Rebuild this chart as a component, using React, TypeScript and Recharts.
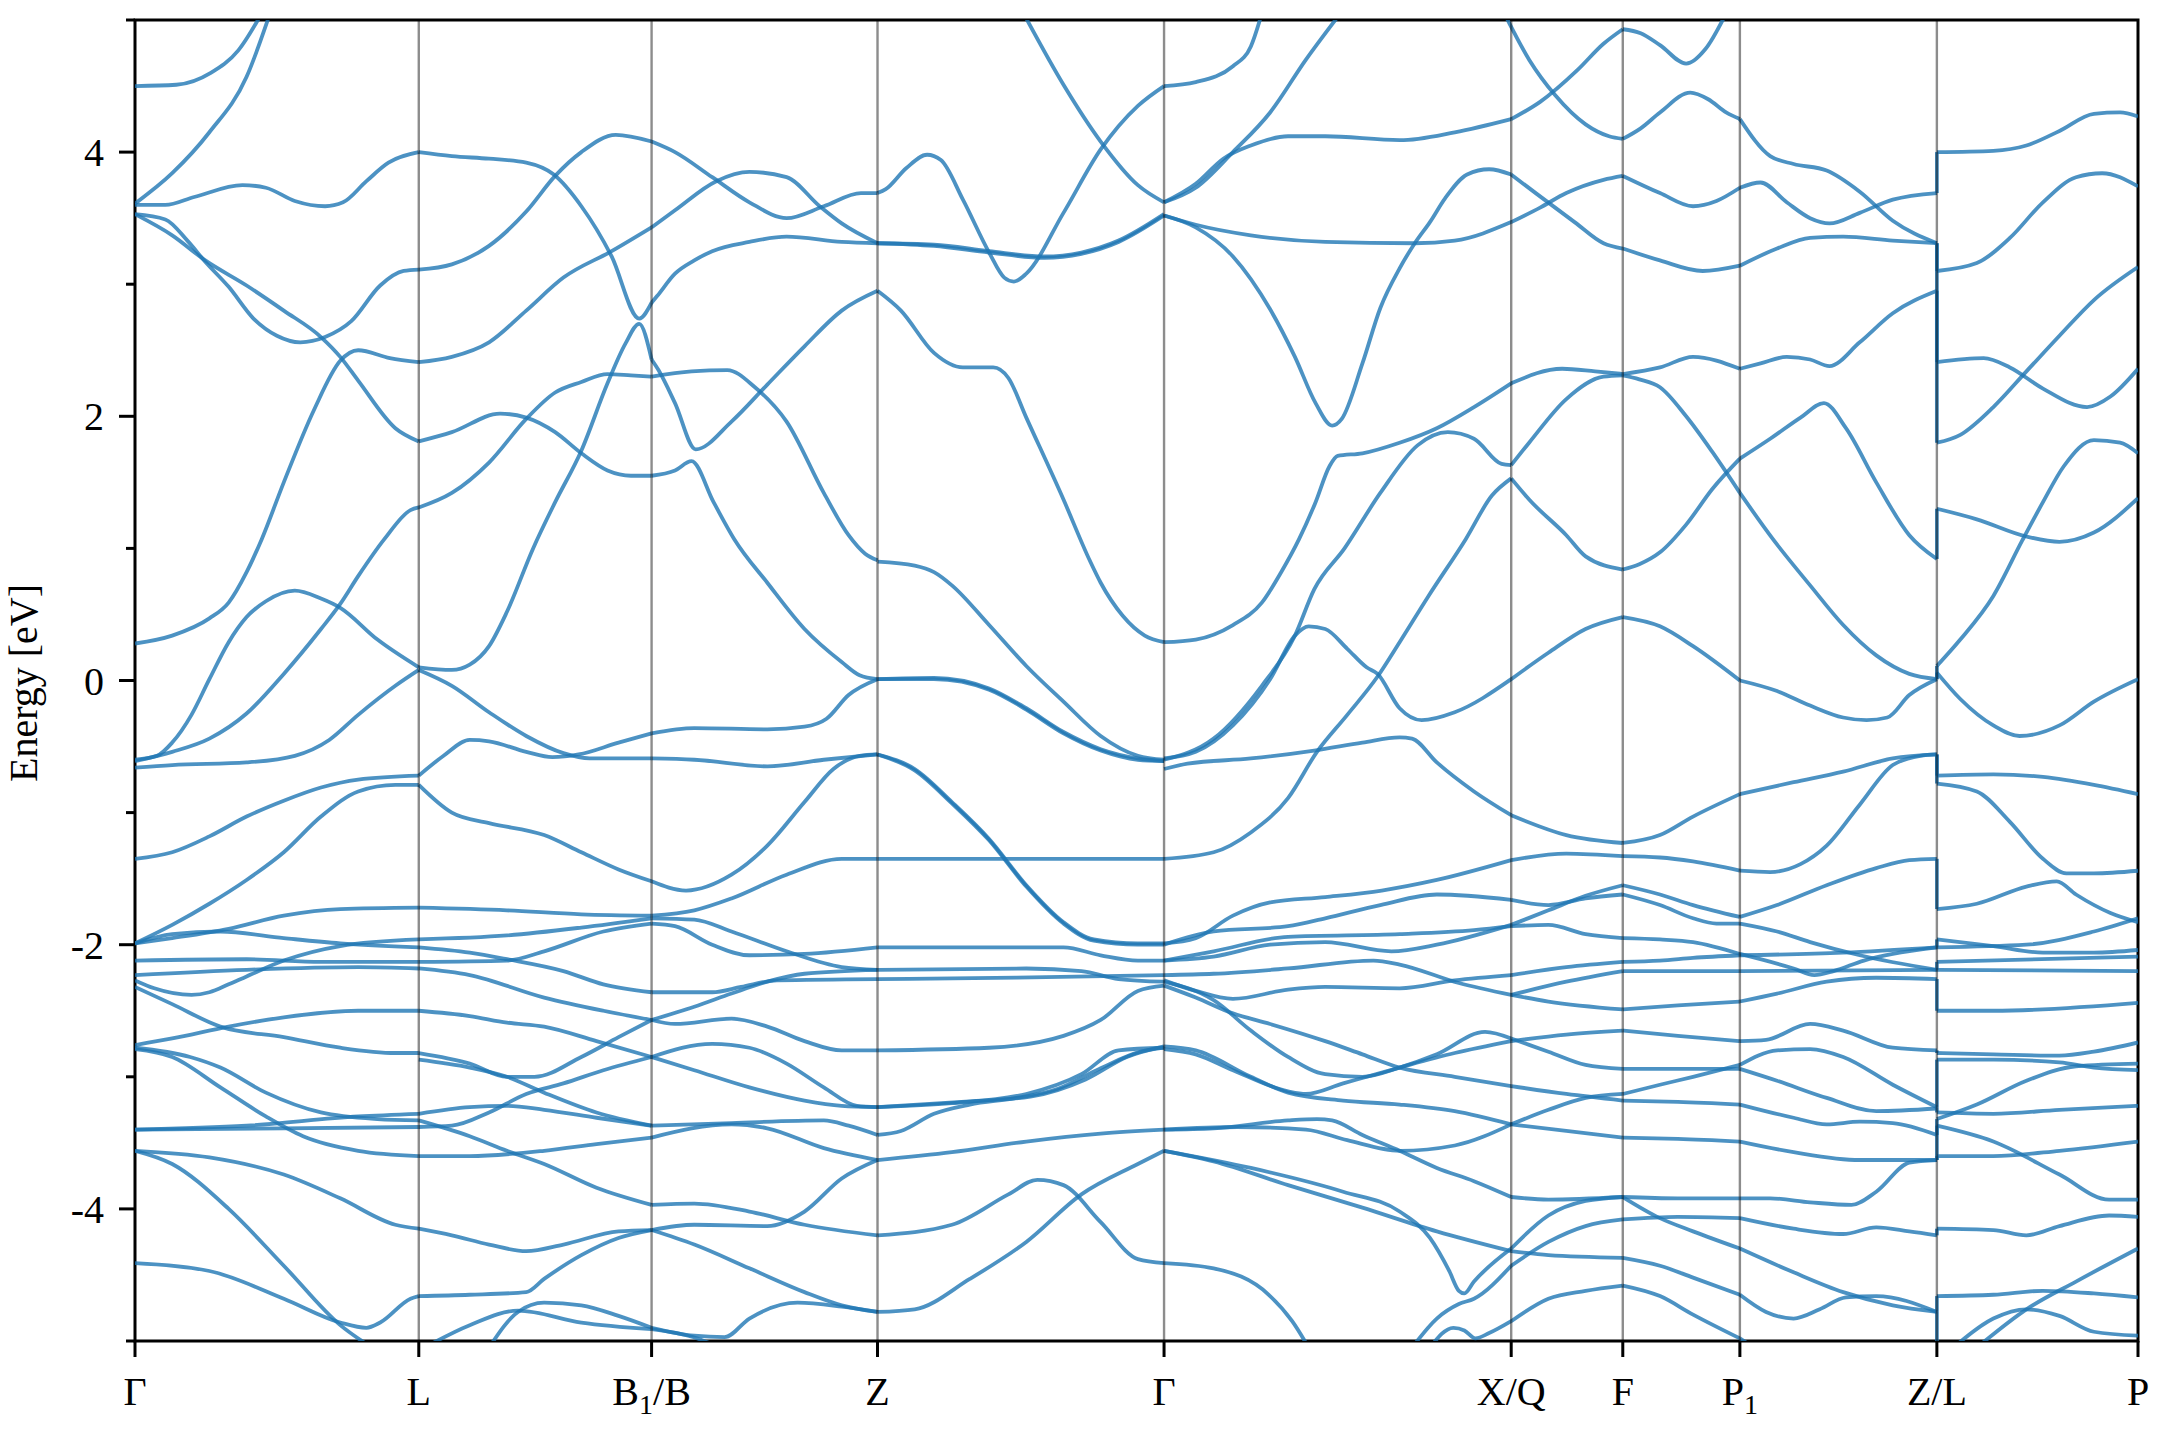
import { useMemo } from "react"
import { Line, LineChart, ReferenceArea, ReferenceLine, XAxis, YAxis } from "recharts"

type Curve = number[][]

const FONT = '"Liberation Serif", "Times New Roman", serif'
const PLOT_LEFT = 135
const PLOT_BOTTOM = 1341

// k-path positions of the high-symmetry points and their labels ("_" marks a subscript)
const kTicks = [0, 206, 375, 539, 747, 999, 1080, 1165, 1308, 1454]
const kLabels = ["Γ", "L", "B_1/B", "Z", "Γ", "X/Q", "F", "P_1", "Z/L", "P"]
const eTicks = [-5, -4, -3, -2, -1, 0, 1, 2, 3, 4, 5]

// each curve is a list of [k, energy in eV]
const gammaL: Curve[] = [
  [[0, 4.5], [30, 4.51], [55, 4.6], [75, 4.77], [92, 5.05]],
  [[0, 3.61], [27, 3.84], [54, 4.15], [81, 4.57], [98, 5.05]],
  [[0, 3.6], [22, 3.6], [43, 3.66], [78, 3.75], [95, 3.73], [116, 3.63], [138, 3.59], [151, 3.62], [168, 3.78], [184, 3.92], [206, 4.0]],
  [[0, 3.53], [22, 3.49], [38, 3.33], [51, 3.17], [68, 2.98], [86, 2.74], [103, 2.61], [120, 2.56], [138, 2.6], [157, 2.72], [178, 2.99], [195, 3.1], [206, 3.11]],
  [[0, 3.53], [27, 3.37], [51, 3.18], [81, 2.99], [108, 2.8], [135, 2.6], [149, 2.45], [162, 2.27], [189, 1.91], [206, 1.81]],
  [[0, 0.28], [27, 0.34], [54, 0.47], [68, 0.59], [81, 0.82], [92, 1.07], [108, 1.5], [130, 2.05], [149, 2.42], [162, 2.5], [185, 2.44], [206, 2.41]],
  [[0, -0.6], [16, -0.57], [27, -0.47], [41, -0.26], [54, 0.01], [68, 0.29], [81, 0.48], [95, 0.6], [116, 0.68], [135, 0.62], [149, 0.55], [176, 0.31], [206, 0.1]],
  [[0, -0.61], [27, -0.54], [54, -0.44], [81, -0.25], [108, 0.05], [135, 0.39], [149, 0.58], [162, 0.79], [181, 1.07], [200, 1.29], [206, 1.31]],
  [[0, -0.66], [27, -0.64], [81, -0.62], [116, -0.57], [141, -0.45], [162, -0.26], [189, -0.04], [206, 0.08]],
  [[0, -1.35], [27, -1.3], [54, -1.18], [81, -1.03], [108, -0.91], [135, -0.81], [162, -0.75], [206, -0.72]],
  [[0, -1.99], [27, -1.85], [54, -1.69], [81, -1.51], [108, -1.3], [135, -1.03], [162, -0.84], [189, -0.79], [206, -0.79]],
  [[0, -1.99], [27, -1.95], [68, -1.88], [108, -1.78], [149, -1.73], [206, -1.72]],
  [[0, -1.99], [27, -1.92], [62, -1.9], [108, -1.95], [149, -1.99], [206, -2.02]],
  [[0, -2.12], [81, -2.11], [135, -2.13], [206, -2.13]],
  [[0, -2.23], [81, -2.19], [162, -2.17], [206, -2.18]],
  [[0, -2.27], [14, -2.33], [41, -2.38], [54, -2.36], [68, -2.3], [81, -2.24], [108, -2.12], [149, -2.01], [206, -1.96]],
  [[0, -2.32], [27, -2.45], [62, -2.62], [108, -2.7], [149, -2.78], [189, -2.82], [206, -2.82]],
  [[0, -2.76], [27, -2.71], [68, -2.62], [108, -2.55], [162, -2.5], [206, -2.5]],
  [[0, -2.78], [40, -2.85], [62, -2.93], [95, -3.12], [135, -3.27], [176, -3.32], [206, -3.33]],
  [[0, -2.79], [27, -2.85], [62, -3.08], [95, -3.3], [122, -3.45], [162, -3.56], [206, -3.6]],
  [[0, -3.4], [81, -3.37], [162, -3.3], [206, -3.28]],
  [[0, -3.4], [108, -3.39], [206, -3.38]],
  [[0, -3.56], [54, -3.61], [108, -3.74], [149, -3.92], [189, -4.12], [206, -4.15]],
  [[0, -3.56], [27, -3.66], [68, -4.0], [108, -4.43], [149, -4.88], [172, -5.05]],
  [[0, -4.41], [54, -4.47], [108, -4.68], [149, -4.86], [168, -4.9], [178, -4.86], [200, -4.68], [206, -4.66]],
]

const lB: Curve[] = [
  [[206, 4.0], [230, 3.97], [257, 3.95], [284, 3.92], [304, 3.83], [324, 3.59], [346, 3.21], [366, 2.74], [375, 2.86]],
  [[206, 3.11], [230, 3.15], [257, 3.29], [284, 3.55], [305, 3.82], [324, 4.0], [349, 4.13], [375, 4.08]],
  [[206, 2.41], [230, 2.45], [257, 2.56], [284, 2.8], [311, 3.05], [346, 3.25], [375, 3.43]],
  [[206, 1.81], [230, 1.88], [265, 2.02], [284, 1.99], [305, 1.88], [324, 1.72], [343, 1.59], [360, 1.55], [375, 1.55]],
  [[206, 1.31], [230, 1.42], [257, 1.65], [284, 1.98], [305, 2.18], [324, 2.26], [343, 2.32], [360, 2.31], [375, 2.3]],
  [[206, 0.1], [230, 0.08], [243, 0.12], [257, 0.26], [270, 0.52], [289, 1.0], [305, 1.35], [324, 1.74], [343, 2.25], [356, 2.55], [366, 2.7], [375, 2.43]],
  [[206, 0.08], [230, -0.04], [257, -0.24], [284, -0.42], [311, -0.55], [330, -0.59], [375, -0.59]],
  [[206, -0.72], [224, -0.57], [243, -0.45], [257, -0.46], [284, -0.54], [303, -0.58], [322, -0.56], [351, -0.47], [375, -0.4]],
  [[206, -0.79], [230, -1.0], [257, -1.08], [297, -1.17], [324, -1.3], [351, -1.43], [375, -1.52]],
  [[206, -1.72], [270, -1.74], [324, -1.77], [375, -1.78]],
  [[206, -1.96], [270, -1.93], [324, -1.87], [375, -1.8]],
  [[206, -2.13], [270, -2.12], [297, -2.05], [340, -1.9], [375, -1.84]],
  [[206, -2.02], [243, -2.06], [270, -2.11], [311, -2.2], [340, -2.3], [375, -2.36]],
  [[206, -2.18], [243, -2.23], [297, -2.4], [340, -2.5], [375, -2.57]],
  [[206, -2.5], [243, -2.54], [270, -2.59], [297, -2.62], [335, -2.73], [375, -2.85]],
  [[206, -2.82], [243, -2.9], [270, -3.0], [290, -3.0], [324, -2.85], [351, -2.7], [375, -2.57]],
  [[206, -2.87], [243, -2.93], [270, -3.0], [297, -3.12], [335, -3.27], [375, -3.37]],
  [[206, -3.28], [243, -3.23], [270, -3.22], [297, -3.25], [335, -3.31], [375, -3.37]],
  [[206, -3.33], [243, -3.45], [270, -3.56], [297, -3.66], [335, -3.84], [375, -3.97]],
  [[206, -3.38], [230, -3.37], [257, -3.27], [284, -3.13], [311, -3.05], [340, -2.95], [375, -2.85]],
  [[206, -3.6], [243, -3.6], [297, -3.56], [335, -3.51], [375, -3.46]],
  [[206, -4.15], [230, -4.2], [257, -4.27], [284, -4.32], [311, -4.27], [351, -4.17], [375, -4.16]],
  [[206, -4.66], [243, -4.65], [284, -4.63], [297, -4.53], [324, -4.35], [351, -4.22], [375, -4.16]],
  [[210, -5.05], [243, -4.88], [278, -4.77], [324, -4.86], [375, -4.91]],
  [[257, -5.05], [278, -4.78], [297, -4.71], [324, -4.73], [351, -4.81], [375, -4.9]],
]

const bZ: Curve[] = [
  [[375, 4.08], [392, 4.0], [419, 3.81], [446, 3.62], [473, 3.5], [500, 3.59], [527, 3.69], [539, 3.69]],
  [[375, 3.43], [392, 3.56], [422, 3.78], [446, 3.85], [473, 3.81], [497, 3.59], [513, 3.46], [539, 3.31]],
  [[375, 2.86], [379, 2.91], [392, 3.08], [406, 3.18], [419, 3.25], [446, 3.32], [473, 3.36], [513, 3.32], [539, 3.31]],
  [[375, 2.43], [380, 2.35], [392, 2.1], [407, 1.75], [433, 1.96], [459, 2.24], [486, 2.53], [513, 2.8], [539, 2.95]],
  [[375, 2.3], [404, 2.34], [430, 2.35], [450, 2.22], [473, 1.96], [500, 1.42], [518, 1.1], [530, 0.96], [539, 0.91]],
  [[375, 1.55], [392, 1.59], [404, 1.66], [420, 1.35], [435, 1.07], [459, 0.74], [486, 0.39], [513, 0.14], [526, 0.04], [539, 0.01]],
  [[375, -0.4], [406, -0.36], [459, -0.37], [486, -0.35], [502, -0.29], [518, -0.11], [539, 0.01]],
  [[375, -0.59], [406, -0.6], [459, -0.65], [500, -0.6], [539, -0.56]],
  [[375, -1.52], [400, -1.59], [433, -1.47], [459, -1.25], [486, -0.92], [507, -0.67], [526, -0.57], [539, -0.56]],
  [[375, -1.78], [406, -1.74], [433, -1.65], [473, -1.47], [513, -1.35], [539, -1.35]],
  [[375, -1.84], [392, -1.86], [419, -2.0], [446, -2.08], [486, -2.07], [539, -2.02]],
  [[375, -1.8], [406, -1.81], [433, -1.9], [473, -2.05], [513, -2.17], [539, -2.19]],
  [[375, -2.36], [419, -2.36], [440, -2.32], [466, -2.27], [539, -2.26]],
  [[375, -2.57], [406, -2.47], [433, -2.37], [459, -2.28], [486, -2.22], [539, -2.19]],
  [[375, -2.57], [392, -2.6], [433, -2.56], [459, -2.62], [486, -2.73], [513, -2.8], [539, -2.8]],
  [[375, -2.85], [406, -2.95], [446, -3.08], [486, -3.18], [513, -3.22], [539, -3.23]],
  [[375, -2.85], [419, -2.75], [446, -2.78], [473, -2.9], [500, -3.08], [524, -3.22], [539, -3.23]],
  [[375, -3.37], [433, -3.35], [500, -3.33], [518, -3.37], [539, -3.44]],
  [[375, -3.46], [433, -3.36], [459, -3.39], [500, -3.54], [539, -3.63]],
  [[375, -3.97], [406, -3.96], [446, -4.02], [486, -4.12], [539, -4.2]],
  [[375, -4.16], [406, -4.12], [459, -4.13], [486, -4.02], [513, -3.77], [539, -3.63]],
  [[375, -4.16], [406, -4.27], [446, -4.45], [486, -4.63], [513, -4.73], [539, -4.78]],
  [[375, -4.9], [406, -4.96], [428, -4.97], [446, -4.83], [481, -4.71], [513, -4.74], [539, -4.78]],
  [[375, -4.91], [405, -4.97], [425, -5.05]],
]

const zGamma: Curve[] = [
  [[539, 3.69], [545, 3.72], [560, 3.88], [575, 3.98], [585, 3.94], [601, 3.64], [620, 3.24], [631, 3.05], [638, 3.02], [647, 3.08], [674, 3.54], [701, 4.02], [728, 4.35], [747, 4.5]],
  [[645, 5.05], [674, 4.51], [701, 4.08], [728, 3.75], [747, 3.62]],
  [[539, 3.31], [580, 3.29], [620, 3.24], [660, 3.2], [687, 3.23], [714, 3.32], [747, 3.52]],
  [[539, 3.31], [580, 3.3], [620, 3.25], [660, 3.21], [687, 3.24], [714, 3.33], [747, 3.53]],
  [[539, 2.95], [556, 2.8], [580, 2.48], [601, 2.37], [623, 2.37], [634, 2.29], [647, 1.99], [674, 1.37], [693, 0.91], [701, 0.74], [717, 0.49], [733, 0.34], [747, 0.29]],
  [[539, 0.9], [566, 0.87], [580, 0.82], [593, 0.72], [620, 0.42], [647, 0.11], [674, -0.16], [701, -0.42], [728, -0.57], [747, -0.6]],
  [[539, 0.01], [580, 0.02], [620, -0.06], [647, -0.21], [674, -0.39], [701, -0.52], [728, -0.59], [747, -0.61]],
  [[539, 0.01], [580, 0.01], [620, -0.07], [647, -0.22], [674, -0.4], [701, -0.53], [728, -0.6], [747, -0.61]],
  [[539, -0.56], [566, -0.67], [593, -0.92], [620, -1.2], [647, -1.55], [674, -1.83], [696, -1.96], [728, -1.99], [747, -1.99]],
  [[539, -0.56], [566, -0.68], [593, -0.93], [620, -1.21], [647, -1.56], [674, -1.84], [696, -1.97], [728, -2.0], [747, -2.0]],
  [[539, -1.35], [640, -1.35], [747, -1.35]],
  [[539, -2.02], [674, -2.02], [701, -2.08], [728, -2.12], [747, -2.12]],
  [[539, -2.19], [647, -2.18], [687, -2.2], [714, -2.26], [747, -2.28]],
  [[539, -2.26], [640, -2.25], [747, -2.23]],
  [[539, -2.8], [620, -2.78], [674, -2.69], [701, -2.57], [728, -2.35], [747, -2.31]],
  [[539, -3.23], [593, -3.2], [647, -3.13], [687, -2.98], [714, -2.8], [747, -2.78]],
  [[539, -3.23], [600, -3.19], [650, -3.15], [690, -3.02], [720, -2.85], [747, -2.77]],
  [[539, -3.44], [556, -3.41], [580, -3.28], [606, -3.21], [640, -3.16], [670, -3.09], [700, -2.94], [730, -2.81], [747, -2.78]],
  [[539, -3.63], [593, -3.57], [647, -3.49], [701, -3.43], [747, -3.4]],
  [[539, -4.2], [593, -4.12], [634, -3.89], [655, -3.78], [674, -3.82], [701, -4.1], [728, -4.38], [747, -4.41]],
  [[539, -4.78], [566, -4.76], [606, -4.53], [647, -4.25], [687, -3.89], [728, -3.66], [747, -3.56]],
]

const gammaX: Curve[] = [
  [[747, 4.5], [770, 4.53], [797, 4.65], [810, 4.8], [818, 5.05]],
  [[747, 3.62], [770, 3.73], [797, 4.0], [824, 4.3], [850, 4.7], [875, 5.05]],
  [[747, 3.62], [770, 3.76], [790, 3.95], [810, 4.05], [837, 4.12], [864, 4.12], [918, 4.09], [958, 4.15], [999, 4.25]],
  [[747, 3.52], [770, 3.45], [810, 3.37], [864, 3.32], [929, 3.31], [958, 3.33], [999, 3.47]],
  [[747, 3.52], [770, 3.43], [797, 3.21], [824, 2.81], [842, 2.45], [857, 2.1], [869, 1.93], [876, 1.98], [891, 2.4], [904, 2.82], [918, 3.12], [929, 3.31], [940, 3.47], [951, 3.65], [967, 3.83], [983, 3.87], [999, 3.83]],
  [[747, 0.29], [770, 0.31], [797, 0.42], [818, 0.59], [832, 0.82], [845, 1.07], [857, 1.35], [867, 1.62], [873, 1.7], [891, 1.72], [918, 1.8], [945, 1.91], [972, 2.07], [999, 2.25]],
  [[747, -0.6], [783, -0.44], [818, -0.04], [842, 0.34], [856, 0.69], [878, 1.0], [904, 1.42], [931, 1.78], [953, 1.88], [972, 1.83], [992, 1.64], [999, 1.63]],
  [[747, -0.59], [770, -0.54], [797, -0.34], [824, 0.01], [842, 0.34], [852, 0.41], [864, 0.39], [880, 0.24], [894, 0.1], [902, 0.05], [918, -0.21], [934, -0.3], [958, -0.24], [999, 0.01]],
  [[747, -1.35], [783, -1.3], [810, -1.15], [837, -0.89], [858, -0.54], [880, -0.26], [902, 0.03], [918, 0.29], [939, 0.64], [966, 1.07], [985, 1.4], [999, 1.53]],
  [[747, -0.67], [764, -0.63], [810, -0.59], [856, -0.53], [891, -0.47], [918, -0.43], [927, -0.44], [945, -0.62], [972, -0.84], [999, -1.02]],
  [[747, -1.99], [770, -1.95], [797, -1.78], [824, -1.68], [864, -1.64], [905, -1.59], [945, -1.51], [999, -1.36]],
  [[747, -2.0], [783, -1.9], [837, -1.86], [864, -1.8], [904, -1.7], [945, -1.62], [999, -1.66]],
  [[747, -2.12], [783, -2.05], [837, -1.94], [918, -1.92], [972, -1.89], [999, -1.86]],
  [[747, -2.12], [783, -2.09], [824, -2.0], [864, -1.98], [912, -2.05], [945, -2.0], [999, -1.85]],
  [[747, -2.23], [783, -2.22], [837, -2.18], [899, -2.12], [918, -2.15], [961, -2.29], [999, -2.38]],
  [[747, -2.27], [770, -2.35], [797, -2.41], [837, -2.34], [864, -2.32], [918, -2.33], [958, -2.27], [999, -2.23]],
  [[747, -2.31], [770, -2.4], [797, -2.52], [824, -2.6], [864, -2.73], [891, -2.83], [918, -2.93], [958, -3.0], [999, -3.07]],
  [[747, -2.28], [783, -2.42], [810, -2.65], [837, -2.85], [864, -2.98], [891, -3.0], [918, -2.93], [945, -2.83], [980, -2.66], [999, -2.71]],
  [[747, -2.79], [770, -2.83], [797, -2.95], [837, -3.11], [850, -3.13], [877, -3.05], [918, -2.93], [958, -2.82], [999, -2.73]],
  [[747, -2.77], [770, -2.8], [810, -3.0], [837, -3.12], [877, -3.18], [918, -3.21], [958, -3.26], [999, -3.36]],
  [[747, -3.4], [783, -3.39], [837, -3.33], [858, -3.32], [869, -3.33], [891, -3.44], [918, -3.56], [945, -3.69], [972, -3.79], [999, -3.91]],
  [[747, -3.4], [800, -3.38], [850, -3.4], [880, -3.48], [918, -3.56], [958, -3.52], [999, -3.36]],
  [[747, -3.56], [810, -3.69], [877, -3.87], [918, -4.02], [940, -4.22], [954, -4.47], [961, -4.62], [965, -4.64], [972, -4.55], [999, -4.3]],
  [[747, -3.56], [783, -3.64], [837, -3.82], [891, -3.99], [945, -4.17], [999, -4.32]],
  [[747, -4.41], [783, -4.45], [823, -4.65], [840, -4.85], [852, -5.05]],
  [[927, -5.05], [945, -4.83], [961, -4.72], [972, -4.68], [999, -4.43]],
  [[940, -5.05], [957, -4.9], [965, -4.92], [973, -4.98], [983, -4.94], [999, -4.85]],
]

const xF: Curve[] = [
  [[999, 4.25], [1020, 4.38], [1047, 4.62], [1066, 4.82], [1080, 4.93]],
  [[994, 5.05], [1012, 4.7], [1031, 4.43], [1053, 4.21], [1070, 4.12], [1080, 4.1]],
  [[999, 3.47], [1020, 3.58], [1039, 3.69], [1066, 3.79], [1080, 3.82]],
  [[999, 3.83], [1018, 3.68], [1045, 3.47], [1066, 3.31], [1080, 3.27]],
  [[999, 2.25], [1036, 2.36], [1060, 2.34], [1080, 2.32]],
  [[999, 1.63], [1012, 1.8], [1039, 2.13], [1066, 2.3], [1080, 2.31]],
  [[999, 1.53], [1012, 1.37], [1039, 1.1], [1053, 0.94], [1080, 0.84]],
  [[999, 0.01], [1026, 0.21], [1053, 0.39], [1080, 0.48]],
  [[999, -1.02], [1039, -1.17], [1080, -1.23]],
  [[999, -1.36], [1039, -1.31], [1080, -1.33]],
  [[999, -1.66], [1026, -1.7], [1053, -1.65], [1080, -1.62]],
  [[999, -1.85], [1026, -1.74], [1053, -1.63], [1080, -1.55]],
  [[999, -1.86], [1026, -1.85], [1053, -1.92], [1080, -1.95]],
  [[999, -2.23], [1039, -2.17], [1080, -2.13]],
  [[999, -2.38], [1039, -2.28], [1080, -2.2]],
  [[999, -2.38], [1026, -2.43], [1080, -2.49]],
  [[999, -2.71], [1026, -2.81], [1053, -2.91], [1080, -2.94]],
  [[999, -2.73], [1039, -2.68], [1080, -2.65]],
  [[999, -3.07], [1039, -3.13], [1080, -3.18]],
  [[999, -3.36], [1039, -3.41], [1080, -3.46]],
  [[999, -3.36], [1026, -3.25], [1053, -3.16], [1080, -3.13]],
  [[999, -3.91], [1026, -3.93], [1080, -3.91]],
  [[999, -4.3], [1026, -4.05], [1053, -3.94], [1080, -3.91]],
  [[999, -4.32], [1026, -4.35], [1080, -4.37]],
  [[999, -4.43], [1026, -4.25], [1053, -4.13], [1080, -4.08]],
  [[999, -4.85], [1026, -4.68], [1053, -4.62], [1080, -4.58]],
]

const fP1: Curve[] = [
  [[1080, 4.93], [1093, 4.9], [1107, 4.81], [1126, 4.67], [1140, 4.78], [1155, 5.05]],
  [[1080, 4.1], [1093, 4.18], [1107, 4.3], [1129, 4.45], [1142, 4.4], [1155, 4.3], [1165, 4.25]],
  [[1080, 3.82], [1107, 3.69], [1131, 3.59], [1148, 3.63], [1165, 3.73]],
  [[1080, 3.27], [1107, 3.18], [1138, 3.1], [1165, 3.14]],
  [[1080, 2.32], [1107, 2.37], [1131, 2.45], [1165, 2.36]],
  [[1080, 2.31], [1092, 2.28], [1107, 2.22], [1126, 2.0], [1145, 1.73], [1165, 1.42]],
  [[1080, 0.84], [1092, 0.88], [1107, 0.97], [1126, 1.18], [1145, 1.45], [1165, 1.68]],
  [[1080, 0.48], [1107, 0.41], [1131, 0.26], [1165, 0.0]],
  [[1080, -1.23], [1107, -1.17], [1131, -1.03], [1165, -0.86]],
  [[1080, -1.33], [1107, -1.34], [1131, -1.37], [1165, -1.44]],
  [[1080, -1.55], [1107, -1.62], [1131, -1.7], [1165, -1.79]],
  [[1080, -1.62], [1107, -1.7], [1131, -1.8], [1148, -1.84], [1165, -1.84]],
  [[1080, -1.95], [1107, -1.96], [1131, -1.98], [1165, -2.07]],
  [[1080, -2.13], [1107, -2.12], [1131, -2.1], [1165, -2.08]],
  [[1080, -2.2], [1165, -2.2]],
  [[1080, -2.49], [1120, -2.46], [1165, -2.43]],
  [[1080, -2.65], [1120, -2.69], [1165, -2.73]],
  [[1080, -2.94], [1120, -2.94], [1165, -2.94]],
  [[1080, -3.13], [1107, -3.06], [1131, -3.0], [1165, -2.91]],
  [[1080, -3.18], [1120, -3.19], [1165, -3.21]],
  [[1080, -3.46], [1120, -3.47], [1165, -3.49]],
  [[1080, -3.91], [1120, -3.92], [1165, -3.92]],
  [[1080, -4.08], [1120, -4.06], [1165, -4.07]],
  [[1080, -3.91], [1107, -4.07], [1131, -4.17], [1165, -4.3]],
  [[1080, -4.37], [1107, -4.43], [1131, -4.52], [1165, -4.65]],
  [[1080, -4.58], [1107, -4.66], [1131, -4.8], [1165, -4.98]],
]

const p1ZL: Curve[] = [
  [[1165, 4.25], [1187, 3.97], [1204, 3.91], [1228, 3.86], [1252, 3.7], [1276, 3.48], [1308, 3.31]],
  [[1165, 3.73], [1180, 3.77], [1199, 3.62], [1216, 3.5], [1230, 3.46], [1252, 3.54], [1276, 3.64], [1308, 3.69]],
  [[1165, 3.14], [1192, 3.27], [1216, 3.35], [1240, 3.36], [1276, 3.33], [1308, 3.31]],
  [[1165, 2.36], [1180, 2.4], [1199, 2.45], [1216, 2.43], [1230, 2.38], [1252, 2.56], [1276, 2.78], [1308, 2.95]],
  [[1165, 1.68], [1187, 1.83], [1209, 1.99], [1226, 2.1], [1242, 1.91], [1264, 1.5], [1288, 1.1], [1308, 0.92]],
  [[1165, 1.42], [1189, 1.07], [1216, 0.72], [1240, 0.42], [1264, 0.19], [1288, 0.05], [1308, 0.01]],
  [[1165, 0.0], [1192, -0.08], [1216, -0.19], [1240, -0.28], [1257, -0.3], [1272, -0.28], [1288, -0.11], [1308, 0.01]],
  [[1165, -0.86], [1204, -0.77], [1240, -0.69], [1276, -0.59], [1308, -0.56]],
  [[1165, -1.44], [1187, -1.45], [1209, -1.39], [1228, -1.25], [1252, -0.94], [1276, -0.64], [1296, -0.57], [1308, -0.56]],
  [[1165, -1.79], [1192, -1.7], [1228, -1.55], [1264, -1.42], [1288, -1.36], [1308, -1.35]],
  [[1165, -1.84], [1192, -1.9], [1216, -1.98], [1252, -2.08], [1308, -2.19]],
  [[1165, -2.07], [1204, -2.18], [1219, -2.23], [1233, -2.2], [1255, -2.12], [1276, -2.07], [1308, -2.02]],
  [[1165, -2.08], [1240, -2.06], [1308, -2.02]],
  [[1165, -2.2], [1308, -2.19]],
  [[1165, -2.43], [1192, -2.37], [1228, -2.28], [1264, -2.25], [1308, -2.26]],
  [[1165, -2.73], [1184, -2.72], [1216, -2.6], [1240, -2.65], [1276, -2.78], [1308, -2.8]],
  [[1165, -2.91], [1192, -2.8], [1216, -2.79], [1240, -2.85], [1276, -3.06], [1308, -3.23]],
  [[1165, -2.94], [1192, -3.03], [1228, -3.16], [1264, -3.26], [1308, -3.24]],
  [[1165, -3.21], [1204, -3.31], [1228, -3.36], [1252, -3.34], [1276, -3.35], [1308, -3.44]],
  [[1165, -3.49], [1204, -3.57], [1252, -3.63], [1308, -3.63]],
  [[1165, -3.92], [1187, -3.92], [1216, -3.95], [1246, -3.97], [1264, -3.87], [1288, -3.65], [1308, -3.63]],
  [[1165, -4.07], [1204, -4.15], [1240, -4.19], [1264, -4.14], [1288, -4.17], [1308, -4.2]],
  [[1165, -4.3], [1204, -4.48], [1240, -4.63], [1276, -4.73], [1308, -4.78]],
  [[1165, -4.65], [1184, -4.78], [1204, -4.83], [1223, -4.76], [1242, -4.67], [1264, -4.66], [1308, -4.78]],
  [[1165, -4.98], [1175, -5.05]],
]

const lP: Curve[] = [
  [[1308, 4.0], [1349, 4.01], [1373, 4.05], [1397, 4.16], [1422, 4.29], [1441, 4.3], [1454, 4.27]],
  [[1308, 3.1], [1337, 3.16], [1361, 3.35], [1385, 3.62], [1409, 3.81], [1428, 3.84], [1454, 3.74]],
  [[1308, 2.41], [1342, 2.44], [1361, 2.37], [1385, 2.21], [1417, 2.07], [1434, 2.15], [1454, 2.36]],
  [[1308, 1.8], [1325, 1.86], [1349, 2.07], [1373, 2.34], [1397, 2.61], [1422, 2.88], [1454, 3.13]],
  [[1308, 1.3], [1337, 1.22], [1373, 1.09], [1397, 1.05], [1422, 1.12], [1454, 1.38]],
  [[1308, 0.11], [1325, 0.31], [1349, 0.64], [1370, 1.06], [1385, 1.35], [1400, 1.62], [1422, 1.82], [1441, 1.8], [1454, 1.72]],
  [[1308, 0.06], [1325, -0.14], [1349, -0.34], [1368, -0.42], [1397, -0.34], [1422, -0.16], [1454, 0.01]],
  [[1308, -0.72], [1349, -0.71], [1385, -0.73], [1422, -0.79], [1454, -0.86]],
  [[1308, -0.78], [1337, -0.84], [1361, -1.07], [1385, -1.35], [1402, -1.46], [1422, -1.46], [1454, -1.44]],
  [[1308, -1.73], [1337, -1.69], [1373, -1.56], [1395, -1.52], [1409, -1.62], [1434, -1.76], [1454, -1.83]],
  [[1308, -1.96], [1349, -2.01], [1385, -2.06], [1422, -2.06], [1454, -2.04]],
  [[1308, -2.02], [1373, -2.0], [1422, -1.9], [1454, -1.8]],
  [[1308, -2.13], [1454, -2.09]],
  [[1308, -2.19], [1454, -2.2]],
  [[1308, -2.5], [1349, -2.5], [1454, -2.44]],
  [[1308, -2.82], [1349, -2.83], [1397, -2.84], [1422, -2.81], [1454, -2.74]],
  [[1308, -2.87], [1349, -2.87], [1397, -2.89], [1422, -2.93], [1454, -2.95]],
  [[1308, -3.32], [1337, -3.21], [1373, -3.03], [1409, -2.92], [1454, -2.9]],
  [[1308, -3.27], [1349, -3.28], [1397, -3.25], [1454, -3.22]],
  [[1308, -3.37], [1349, -3.49], [1397, -3.74], [1433, -3.93], [1454, -3.93]],
  [[1308, -3.6], [1349, -3.6], [1397, -3.56], [1454, -3.49]],
  [[1308, -4.15], [1349, -4.16], [1373, -4.2], [1397, -4.13], [1433, -4.05], [1454, -4.06]],
  [[1308, -4.66], [1349, -4.65], [1385, -4.62], [1422, -4.64], [1454, -4.67]],
  [[1320, -5.05], [1349, -4.83], [1373, -4.76], [1397, -4.81], [1422, -4.93], [1454, -4.96]],
  [[1337, -5.05], [1373, -4.76], [1409, -4.55], [1454, -4.3]],
]

// band discontinuity at Z|L: [energy at Z, energy at L]
const zlJumps = [
  [3.69, 4.0], [3.31, 3.1], [3.31, 2.41], [2.95, 1.8], [0.92, 1.3], [0.01, 0.11], [0.01, 0.06],
  [-0.56, -0.72], [-0.56, -0.78], [-1.35, -1.73], [-2.02, -1.96], [-2.02, -2.02], [-2.19, -2.13],
  [-2.19, -2.19], [-2.26, -2.5], [-2.8, -2.82], [-3.23, -2.87], [-3.23, -3.27], [-3.44, -3.32],
  [-3.63, -3.37], [-3.63, -3.6], [-4.2, -4.15], [-4.78, -4.66], [-4.78, -5.05],
]
const ZL_K = 1308

const segments = [gammaL, lB, bZ, zGamma, gammaX, xF, fP1, p1ZL, lP]

function XTick(props: any) {
  const { x, payload } = props
  const label = kLabels[kTicks.indexOf(payload.value)] ?? ""
  const [main, sub] = label.split("_")
  return (
    <g>
      <line x1={x} x2={x} y1={PLOT_BOTTOM} y2={PLOT_BOTTOM + 16} stroke="#000" strokeWidth={3} />
      <text x={x} y={1405} textAnchor="middle" fontSize={40} fill="#000" style={{ fontFamily: FONT }}>
        {main}
        {sub !== undefined && (
          <>
            <tspan fontSize={28} dy={9}>{sub[0]}</tspan>
            <tspan dy={-9}>{sub.slice(1)}</tspan>
          </>
        )}
      </text>
    </g>
  )
}

function YTick(props: any) {
  const { y, payload } = props
  const v = payload.value as number
  const major = v % 2 === 0
  const len = major ? 16 : 9
  return (
    <g>
      <line x1={PLOT_LEFT - len} x2={PLOT_LEFT} y1={y} y2={y} stroke="#000" strokeWidth={3} />
      {major && (
        <text x={PLOT_LEFT - 31} y={y} dy="0.35em" textAnchor="end" fontSize={40} fill="#000" style={{ fontFamily: FONT }}>
          {String(v)}
        </text>
      )}
    </g>
  )
}

export default function App() {
  const curves = useMemo(
    () => segments.flat().map((c) => c.map(([k, e]) => ({ k, e }))),
    [],
  )
  const jumps = useMemo(
    () => zlJumps.map(([a, b]) => [{ k: ZL_K, e: a }, { k: ZL_K, e: b }]),
    [],
  )

  return (
    <div style={{ position: "absolute", left: 0, top: 0, width: 2160, height: 1440, background: "#fff" }}>
      <LineChart width={2160} height={1440} margin={{ top: 20, right: 22, left: 0, bottom: 0 }}>
        <XAxis
          type="number"
          dataKey="k"
          domain={[0, 1454]}
          ticks={kTicks}
          interval={0}
          tick={XTick}
          tickLine={false}
          axisLine={false}
          height={99}
          allowDataOverflow
        />
        <YAxis
          type="number"
          domain={[-5, 5]}
          ticks={eTicks}
          interval={0}
          tick={YTick}
          tickLine={false}
          axisLine={false}
          width={135}
          allowDataOverflow
        />
        {curves.map((d, i) => (
          <Line
            key={`c${i}`}
            data={d}
            dataKey="e"
            type="monotone"
            stroke="#1f77b4"
            strokeOpacity={0.8}
            strokeWidth={3.8}
            dot={false}
            activeDot={false}
            isAnimationActive={false}
          />
        ))}
        {jumps.map((d, i) => (
          <Line
            key={`j${i}`}
            data={d}
            dataKey="e"
            type="linear"
            stroke="#1f77b4"
            strokeOpacity={0.8}
            strokeWidth={3.8}
            dot={false}
            activeDot={false}
            isAnimationActive={false}
          />
        ))}
        {kTicks.slice(1, -1).map((k) => (
          <ReferenceLine key={`v${k}`} x={k} stroke="#000" strokeOpacity={0.45} strokeWidth={2.4} />
        ))}
        <ReferenceArea x1={0} x2={1454} y1={-5} y2={5} fill="none" stroke="#000" strokeWidth={3} />
      </LineChart>
      <svg width={80} height={1440} style={{ position: "absolute", left: 0, top: 0, pointerEvents: "none" }}>
        <text
          x={37}
          y={683}
          transform="rotate(-90 37 683)"
          textAnchor="middle"
          fontSize={40}
          fill="#000"
          style={{ fontFamily: FONT }}
        >
          Energy [eV]
        </text>
      </svg>
    </div>
  )
}
